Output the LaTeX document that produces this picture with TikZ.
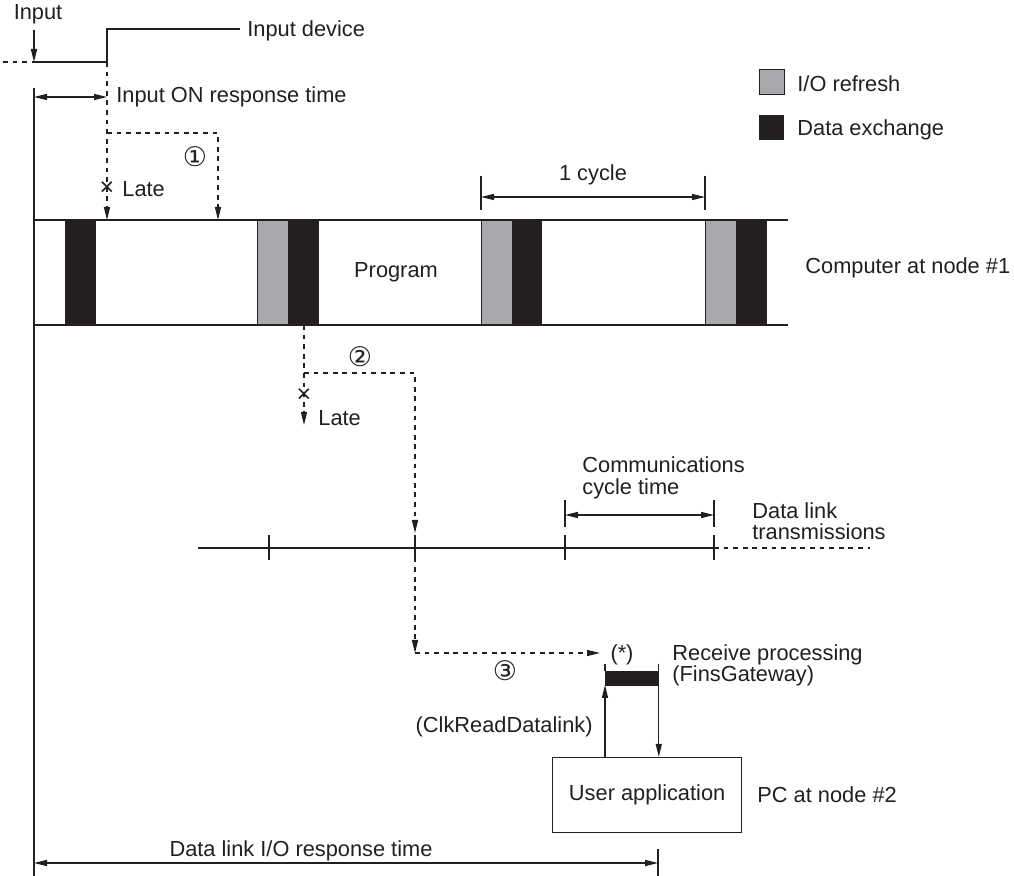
\documentclass[tikz,border=0pt]{standalone}
\usepackage{fontspec}
\setmainfont{Liberation Sans}
\newfontfamily\circfont{DejaVu Sans}
\usetikzlibrary{arrows.meta,positioning,calc}
\definecolor{inkdark}{HTML}{231F20}
\definecolor{refreshgray}{HTML}{A7A9AC}
\tikzset{
  wire/.style={line width=0.65pt, color=inkdark},
  dwire/.style={wire, dash pattern=on 2.4pt off 2.4pt},
  flow/.style={wire, -{Triangle[length=6.5pt,width=3pt]}},
  dflow/.style={flow, dash pattern=on 2.4pt off 2.4pt},
  dimline/.style={wire, {Triangle[length=6.5pt,width=3pt]}-{Triangle[length=6.5pt,width=3pt]}},
  lbl/.style={font=\fontsize{10.9}{10.6}\selectfont, text=inkdark, inner sep=0pt},
  circ/.style={font=\circfont\fontsize{13.5}{13.5}\selectfont, text=inkdark, inner sep=0pt},
  xmark/.style={font=\fontsize{12.5}{12.5}\selectfont, text=inkdark, inner sep=0pt},
  iorefresh/.style={draw=inkdark, line width=0.4pt, fill=refreshgray},
  dxchg/.style={fill=inkdark},
  appbox/.style={draw=inkdark, line width=0.65pt, fill=white, inner sep=0pt,
    minimum width=94.5pt, minimum height=37.5pt, font=\fontsize{10.9}{11}\selectfont, text=inkdark},
}

\begin{document}
\begin{tikzpicture}[x=0.5pt,y=-0.5pt]
  \useasboundingbox (0,0) rectangle (1014,876);

  % input device signal
  \node[lbl] (inlbl) at (38,14) {Input};
  \coordinate (sigfar) at (3,62);
  \coordinate (inhit) at (34,62);
  \coordinate (rise) at (107,62);
  \coordinate (risetop) at (107,29);
  \coordinate (sighi) at (240,29);
  \draw[flow] ($(inlbl.south -| inhit)+(0,6)$) -- (inhit);
  \draw[dwire] (sigfar) -- (inhit);
  \draw[wire] (inhit) -- (rise) -- (risetop) -- (sighi);
  \node[lbl, anchor=west] (devlbl) at (247,31) {Input device};

  % time origin
  \coordinate (t0) at (34,88);
  \coordinate (tend) at (34,876);
  \draw[wire] (t0) -- (tend);
  \coordinate (on0) at (34,97);
  \coordinate (on1) at (107,97);
  \draw[dimline] (on0) -- (on1);
  \node[lbl, anchor=west] (onlbl) at (116,97) {Input ON response time};

  % legend
  \node[iorefresh, minimum size=12.5pt, inner sep=0pt, anchor=north west] (keyref) at (759,69) {};
  \node[lbl, anchor=west] (keyreflbl) at (797,84) {I/O refresh};
  \node[dxchg, minimum size=12.5pt, inner sep=0pt, anchor=north west] (keyxch) at (759,115) {};
  \node[lbl, anchor=west] (keyxchlbl) at (797,130) {Data exchange};

  % computer at node #1
  \coordinate (pgtl) at (34,220);
  \coordinate (pgtr) at (788,220);
  \coordinate (pgbl) at (34,325);
  \coordinate (pgbr) at (788,325);
  \foreach \xa/\xb in {65/96, 288/319, 512/542, 736/767}
    \fill[dxchg] (\xa,220) rectangle (\xb,325);
  \foreach \xa/\xb in {257/288, 481/512, 705/736}
    \filldraw[iorefresh] (\xa,220) rectangle (\xb,325);
  \draw[wire] (pgtl) -- (pgtr);
  \draw[wire] (pgbl) -- (pgbr);
  \node[lbl] (prog) at (396,272) {Program};
  \node[lbl, anchor=west] (comp1) at (805,268) {Computer at node \#1};

  % one cycle
  \coordinate (cyA) at (481,176);
  \coordinate (cyB) at (705,176);
  \draw[wire] (cyA) -- ++(0,34);
  \draw[wire] (cyB) -- ++(0,34);
  \draw[dimline] ($(cyA)+(0,21)$) -- ($(cyB)+(0,21)$);
  \node[lbl] (cylbl) at (593,175) {1 cycle};

  % (1) input reaches the program
  \coordinate (hitA) at (107,220);
  \coordinate (hitB) at (218,220);
  \coordinate (brk1) at (107,133);
  \draw[dflow] (rise) -- (hitA);
  \draw[dflow] (brk1) -| (hitB);
  \node[circ] (one) at (195,157) {①};
  \node[xmark] (xA) at (107,189) {×};
  \node[lbl, anchor=west] (lateA) at (122,189) {Late};

  % (2) data exchange to the data link
  \coordinate (outA) at (304,325);
  \coordinate (tipA) at (304,425);
  \coordinate (brk2) at (304,373);
  \coordinate (dlhit) at (415,533);
  \draw[dflow] (outA) -- (tipA);
  \draw[dflow] (brk2) -| (dlhit);
  \node[circ] (two) at (360,357) {②};
  \node[xmark] (xB) at (304,396) {×};
  \node[lbl, anchor=west] (lateB) at (318,418) {Late};

  % data link transmissions
  \coordinate (dlL) at (198,548);
  \coordinate (dlM) at (714,548);
  \coordinate (dlR) at (870,548);
  \draw[wire] (dlL) -- (dlM);
  \draw[dwire] (dlM) -- (dlR);
  \foreach \x in {269,415,565,714}
    \draw[wire] (\x,535) -- (\x,560);
  \coordinate (ccA) at (565,500);
  \coordinate (ccB) at (714,500);
  \draw[wire] (ccA) -- ++(0,27);
  \draw[wire] (ccB) -- ++(0,27);
  \draw[dimline] ($(ccA)+(0,15)$) -- ($(ccB)+(0,15)$);
  \node[lbl, anchor=south west, align=left] (cclbl) at (582,499) {Communications\\cycle time};
  \node[lbl, anchor=west, align=left] (dllbl) at (752,521) {Data link\\transmissions};

  % (3) receive on the PC
  \coordinate (dlout) at (415,548);
  \coordinate (brk3) at (415,653);
  \coordinate (rxin) at (600,653);
  \draw[dflow] (dlout) -- (brk3);
  \draw[dflow] (brk3) -- (rxin);
  \node[circ] (three) at (505,671) {③};
  \node[lbl] (star) at (622,655) {(*)};
  \node[dxchg, minimum width=26.5pt, minimum height=7.5pt, inner sep=0pt, anchor=north west] (rxbar) at (605,671) {};
  \node[lbl, anchor=west, align=left] (rxlbl) at (672,665) {Receive processing\\(FinsGateway)};
  \node[appbox, anchor=north west] (userapp) at (552,757) {User application};
  \node[lbl, anchor=west] (pc2) at (757,795) {PC at node \#2};
  \draw[wire] (rxbar.north west) -- ++(0,-7);
  \draw[flow] (userapp.north -| rxbar.south west) -- ($(rxbar.south west)+(0,-2)$);
  \draw[flow] ($(rxbar.north east)+(0,-7)$) -- (userapp.north -| rxbar.north east);
  \node[lbl, anchor=east] (clk) at (593,727) {(ClkReadDatalink)};

  % overall response time
  \coordinate (rtA) at (34,863);
  \coordinate (rtB) at (658,863);
  \draw[wire] (658,849) -- (658,876);
  \draw[dimline] (rtA) -- (rtB);
  \node[lbl] (rtlbl) at (301,851) {Data link I/O response time};
\end{tikzpicture}
\end{document}
